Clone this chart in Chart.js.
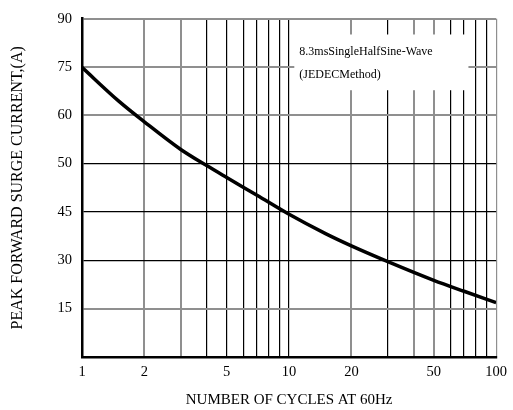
<!DOCTYPE html>
<html>
<head>
<meta charset="utf-8">
<script src="https://cdn.jsdelivr.net/npm/chart.js@4/dist/chart.umd.min.js"></script>
<style>
  html, body { margin: 0; padding: 0; background: #fff; }
  #wrap { width: 513px; height: 410px; }
</style>
</head>
<body>
<div id="wrap"><canvas id="grafico" width="513" height="410"></canvas></div>
<script>
// curve (y in grid units: 15 per division)
const cycles = [1, 1.5, 2, 3, 4, 5, 7, 10, 15, 20, 30, 50, 70, 100];
const current = [89.9, 79.5, 73.0, 64.4, 59.4, 55.7, 50.2, 44.3, 38.3, 34.5, 29.6, 23.8, 20.4, 16.9];

// grid lines and tick labels
const xGrid = [1, 2, 3, 4, 5, 6, 7, 8, 9, 10, 20, 30, 40, 50, 60, 70, 80, 90, 100];
const xLabels = [1, 2, 5, 10, 20, 50, 100];
const xGreyLines = [2, 3, 20, 40, 50];
const yGrid = [0, 15, 30, 45, 60, 75, 90, 105];
const yLabels = ['', '15', '30', '45', '50', '60', '75', '90'];
const yGreyLines = [15, 75, 90, 105];

const grey = '#8f8f8f';

const notaPlugin = {
    id: 'nota',
    beforeDatasetsDraw(chart) {
        const c = chart.ctx;
        const xs = chart.scales.x, ys = chart.scales.y;
        const x0 = xs.getPixelForValue(10.6), x1 = xs.getPixelForValue(73.5);
        const y0 = ys.getPixelForValue(100.1), y1 = ys.getPixelForValue(82.8);
        c.save();
        c.fillStyle = '#fff';
        c.fillRect(x0, y0, x1 - x0, y1 - y0);
        c.fillStyle = '#000';
        c.font = '12px "Liberation Serif"';
        c.textBaseline = 'middle';
        c.fillText('8.3msSingleHalfSine-Wave', x0 + 5, y0 + 17);
        c.fillText('(JEDECMethod)', x0 + 5, y0 + 40);
        c.restore();
    }
};

const ctx = document.getElementById('grafico').getContext('2d');
new Chart(ctx, {
    type: 'line',
    data: {
        datasets: [{
            data: cycles.map((v, i) => ({ x: v, y: current[i] })),
            borderColor: '#000',
            borderWidth: 3.5,
            pointRadius: 0,
            cubicInterpolationMode: 'monotone',
            fill: false
        }]
    },
    options: {
        responsive: false,
        animation: false,
        layout: { padding: { top: 15, right: 12, left: 0, bottom: 0 } },
        plugins: { legend: { display: false }, tooltip: { enabled: false } },
        scales: {
            x: {
                type: 'logarithmic',
                min: 1,
                max: 100,
                afterBuildTicks(axis) {
                    axis.ticks = xGrid.map(v => ({ value: v }));
                },
                afterFit(axis) { axis.height = 53; },
                ticks: {
                    autoSkip: false,
                    maxRotation: 0,
                    padding: 6,
                    color: '#000',
                    font: { family: 'Liberation Serif', size: 14.5 },
                    callback: v => xLabels.includes(v) ? String(v) : ''
                },
                grid: {
                    drawTicks: false,
                    color: c => xGreyLines.includes(c.tick && c.tick.value) || (c.tick && c.tick.value === 100) ? grey : '#000',
                    lineWidth: c => xGreyLines.includes(c.tick && c.tick.value) ? 2 : 1.2
                },
                border: { color: '#000', width: 2.5 },
                title: {
                    display: true,
                    text: 'NUMBER OF CYCLES AT 60Hz',
                    color: '#000',
                    font: { family: 'Liberation Serif', size: 15 },
                    padding: { top: 0, bottom: 1 }
                }
            },
            y: {
                min: 0,
                max: 105,
                afterBuildTicks(axis) {
                    axis.ticks = yGrid.map(v => ({ value: v }));
                },
                afterFit(axis) { axis.width = 82; },
                ticks: {
                    padding: 10,
                    color: '#000',
                    font: { family: 'Liberation Serif', size: 14.5 },
                    callback: (v, i) => yLabels[i]
                },
                grid: {
                    drawTicks: false,
                    color: c => yGreyLines.includes(c.tick && c.tick.value) ? grey : '#000',
                    lineWidth: c => yGreyLines.includes(c.tick && c.tick.value) ? 2 : 1.2
                },
                border: { color: '#000', width: 2.5 },
                title: {
                    display: true,
                    text: 'PEAK FORWARD SURGE CURRENT,(A)',
                    color: '#000',
                    font: { family: 'Liberation Serif', size: 16 },
                    padding: { top: 8, bottom: 0 }
                }
            }
        }
    },
    plugins: [notaPlugin]
});
</script>
</body>
</html>
